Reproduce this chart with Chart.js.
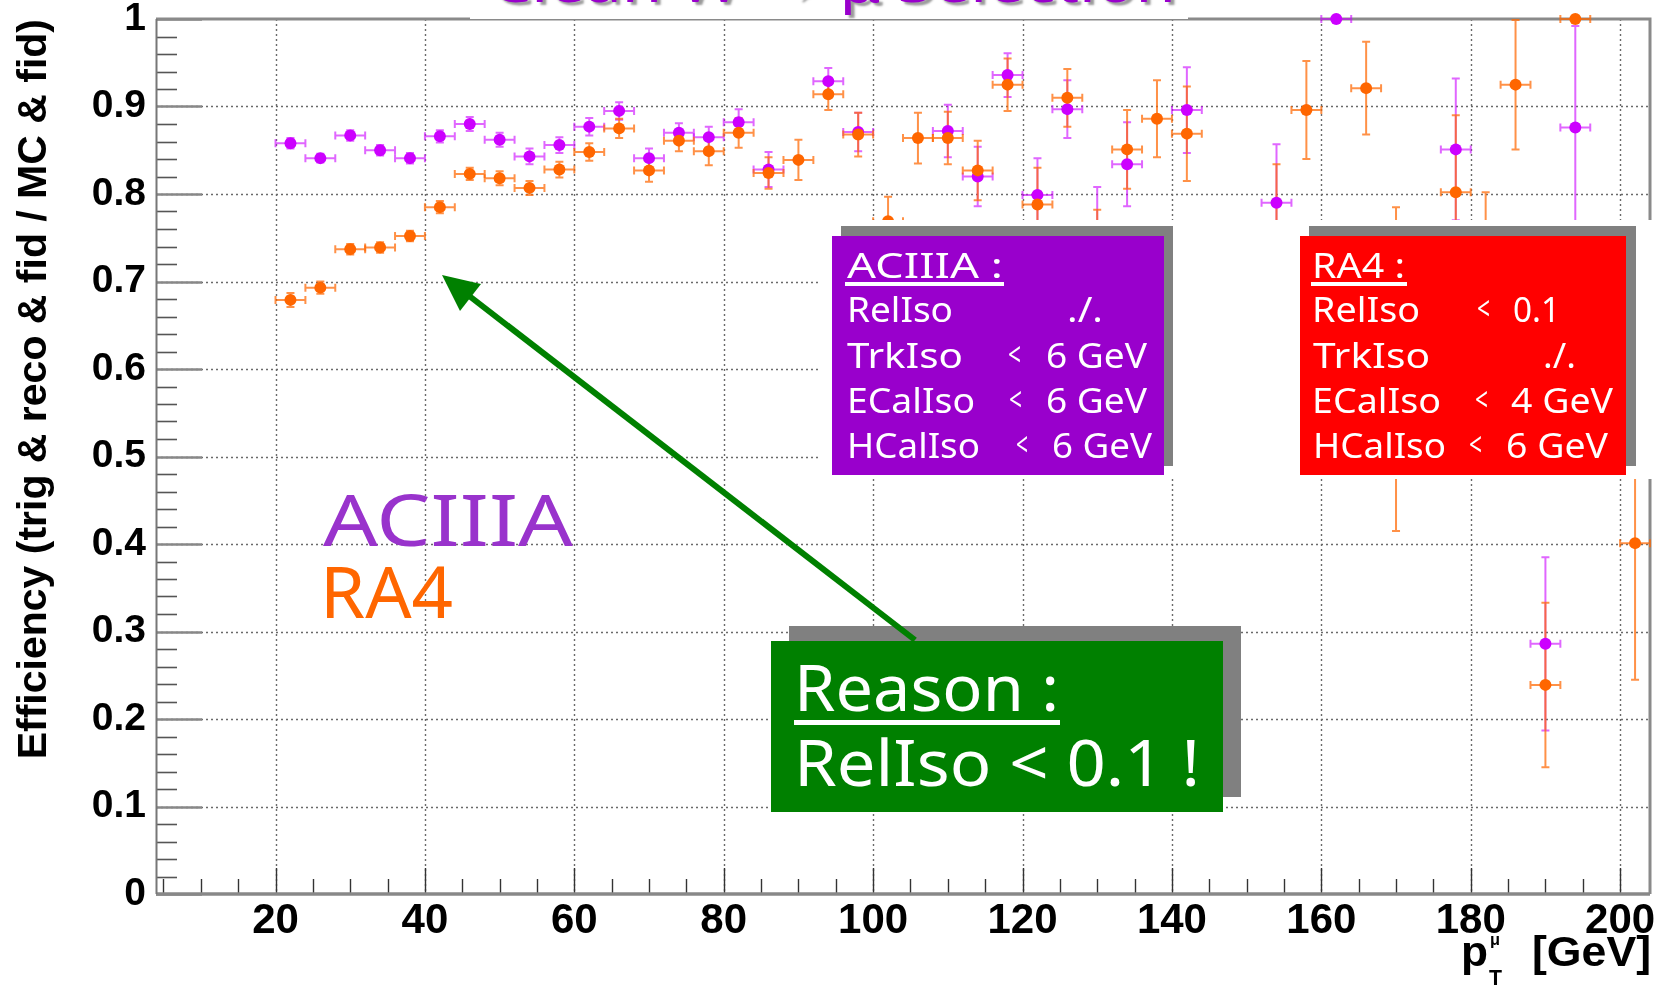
<!DOCTYPE html>
<html><head><meta charset="utf-8">
<script src="https://cdn.jsdelivr.net/npm/chart.js@4.4.0/dist/chart.umd.min.js"></script>
<style>
html,body{margin:0;padding:0;background:#fff;}
#wrap{position:relative;width:1672px;height:992px;overflow:hidden;background:#fff;}
#c{position:absolute;left:0;top:0;}
.abs{position:absolute;}
.txt{position:absolute;white-space:nowrap;line-height:1;font-family:"Noto Sans",sans-serif;transform-origin:0 0;}
.ax{position:absolute;white-space:nowrap;line-height:1;font-family:"Liberation Sans",Arial,sans-serif;font-weight:bold;color:#000;transform-origin:0 0;}
</style></head><body>
<div id="wrap">
<canvas id="c" width="1672" height="992"></canvas>
<div class="abs" style="left:818px;top:220px;width:835px;height:259px;background:#fff;"></div>
<div class="abs" style="left:841px;top:226px;width:332px;height:240px;background:#808080;"></div>
<div class="abs" style="left:832px;top:236px;width:332px;height:239px;background:#9900cc;"></div>
<div class="abs" style="left:1309px;top:226px;width:327px;height:240px;background:#808080;"></div>
<div class="abs" style="left:1300px;top:236px;width:326px;height:239px;background:#ff0000;"></div>
<div class="abs" style="left:789px;top:626px;width:452px;height:171px;background:#808080;"></div>
<svg class="abs" style="left:0;top:0;" width="1672" height="992">
  <line x1="915" y1="640" x2="468" y2="295" stroke="#008000" stroke-width="6"/>
  <polygon points="442,275 481,284 460,311" fill="#008000"/>
</svg>
<div class="abs" style="left:771px;top:641px;width:452px;height:171px;background:#008000;"></div>
<div class="abs" style="left:845px;top:282px;width:159px;height:4px;background:#fff;"></div>
<div class="abs" style="left:1311px;top:282px;width:96px;height:4px;background:#fff;"></div>
<div class="abs" style="left:794px;top:720px;width:266px;height:5px;background:#fff;"></div>
<div id="titlebox" class="abs" style="left:470px;top:0;width:718px;height:19px;background:#fff;overflow:hidden;"></div>
</div>
<script>
// ---------------- data ----------------
const ptBins = [22,26,30,34,38,42,46,50,54,58,62,66,70,74,78,82,86,90,94,98,102,106,110,114,118,122,126,130,134,138,142,146,150,154,158,162,166,170,174,178,182,186,190,194,198,202];
const binHalfWidth = 2;
const aciiiaEff = [0.858,0.841,0.867,0.850,0.841,0.866,0.880,0.862,0.843,0.856,0.877,0.895,0.841,0.870,0.865,0.882,0.828,null,0.929,0.871,null,null,0.872,0.820,0.936,0.799,0.897,0.745,0.834,null,0.896,null,null,0.790,null,1.0,null,null,null,0.851,null,null,0.286,0.876,null,null];
const aciiiaErr = [0.006,0.005,0.006,0.006,0.006,0.007,0.008,0.008,0.009,0.009,0.010,0.010,0.011,0.011,0.012,0.015,0.020,null,0.015,0.022,null,null,0.030,0.034,0.025,0.042,0.033,0.063,0.048,null,0.049,null,null,0.067,null,0,null,null,null,0.081,null,null,0.099,0.116,null,null];
const ra4Eff = [0.679,0.693,0.737,0.739,0.752,0.785,0.823,0.818,0.807,0.828,0.848,0.875,0.827,0.861,0.849,0.870,0.824,0.839,0.914,0.868,0.769,0.864,0.864,0.827,0.925,0.788,0.910,0.730,0.851,0.886,0.869,null,null,0.760,0.896,null,0.921,0.600,null,0.802,0.700,0.925,0.239,1.0,null,0.401];
const ra4Err = [0.008,0.007,0.006,0.006,0.006,0.007,0.007,0.008,0.008,0.009,0.010,0.011,0.013,0.012,0.016,0.017,0.018,0.023,0.018,0.025,0.028,0.029,0.030,0.034,0.030,0.042,0.033,0.052,0.045,0.044,0.054,null,null,0.074,0.056,null,0.053,0.185,null,0.088,0.102,0.074,0.094,0,null,0.156];
const xTickValues = [20,40,60,80,100,120,140,160,180,200];
const xTickLabels = ['20','40','60','80','100','120','140','160','180','200'];
const yTickValues = [0,0.1,0.2,0.3,0.4,0.5,0.6,0.7,0.8,0.9,1];
const yTickLabels = ['0','0.1','0.2','0.3','0.4','0.5','0.6','0.7','0.8','0.9','1'];
const seriesNames = ['RA4','ACIIIA'];

function build(xs, ys, es){
  const out=[];
  xs.forEach((x,i)=>{ if(ys[i]!==null) out.push({x:x, y:ys[i], xe:binHalfWidth, ye:es[i]}); });
  return out;
}

const framePlugin = {
  id:'rootframe',
  beforeDatasetsDraw(chart){
    const ctx=chart.ctx, xs=chart.scales.x, ys=chart.scales.y, a=chart.chartArea;
    ctx.save();
    // grid
    ctx.strokeStyle='#6a6a6a'; ctx.lineWidth=1.4; ctx.setLineDash([2,3]);
    xTickValues.forEach(v=>{ const p=Math.round(xs.getPixelForValue(v))+0.5; ctx.beginPath(); ctx.moveTo(p,a.top); ctx.lineTo(p,a.bottom); ctx.stroke(); });
    yTickValues.forEach(v=>{ if(v<=0||v>=1) return; const p=Math.round(ys.getPixelForValue(v))+0.5; ctx.beginPath(); ctx.moveTo(a.left,p); ctx.lineTo(a.right,p); ctx.stroke(); });
    ctx.setLineDash([]);
    // y ticks
    for(let k=0;k<=50;k++){ const v=k/50; const p=Math.round(ys.getPixelForValue(v))+0.5; const L=(k%5===0)?46:21; ctx.strokeStyle=(k%5===0)?'#888':'#555'; ctx.lineWidth=(k%5===0)?2.5:1.6; ctx.beginPath(); ctx.moveTo(a.left,p); ctx.lineTo(a.left+L,p); ctx.stroke(); }
    // x ticks
    for(let v=5; v<=200; v+=5){ const p=Math.round(xs.getPixelForValue(v))+0.5; const L=(v%20===0)?26:15; ctx.strokeStyle='#333'; ctx.lineWidth=1.4; ctx.beginPath(); ctx.moveTo(p,a.bottom); ctx.lineTo(p,a.bottom-L); ctx.stroke(); }
    // frame
    ctx.strokeStyle='#8a8a8a'; ctx.lineWidth=3;
    ctx.beginPath(); ctx.moveTo(a.left,a.top); ctx.lineTo(a.right,a.top); ctx.lineTo(a.right,a.bottom); ctx.stroke();
    ctx.strokeStyle='#888'; ctx.lineWidth=3.5;
    ctx.beginPath(); ctx.moveTo(a.left,a.bottom); ctx.lineTo(a.right,a.bottom); ctx.stroke();
    ctx.strokeStyle='#777'; ctx.lineWidth=2;
    ctx.beginPath(); ctx.moveTo(a.left+0.5,a.top); ctx.lineTo(a.left+0.5,a.bottom); ctx.stroke();
    // error bars (last dataset first so dataset 0 is on top)
    for(let d=chart.data.datasets.length-1; d>=0; d--){
      const ds=chart.data.datasets[d];
      ctx.strokeStyle=ds.errColor; ctx.lineWidth=2;
      ds.data.forEach(p=>{
        const px=xs.getPixelForValue(p.x), py=ys.getPixelForValue(p.y);
        const xl=xs.getPixelForValue(p.x-p.xe), xr=xs.getPixelForValue(p.x+p.xe);
        ctx.beginPath(); ctx.moveTo(xl,py); ctx.lineTo(xr,py);
        ctx.moveTo(xl,py-4); ctx.lineTo(xl,py+4); ctx.moveTo(xr,py-4); ctx.lineTo(xr,py+4);
        if(p.ye>0){
          const yt=ys.getPixelForValue(p.y+p.ye), yb=ys.getPixelForValue(p.y-p.ye);
          ctx.moveTo(px,yt); ctx.lineTo(px,yb);
          ctx.moveTo(px-4,yt); ctx.lineTo(px+4,yt); ctx.moveTo(px-4,yb); ctx.lineTo(px+4,yb);
        }
        ctx.stroke();
      });
    }
    ctx.restore();
  }
};

const tickFontX={family:'Liberation Sans', weight:'bold', size:42, lineHeight:1.2};
const tickFontY={family:'Liberation Sans', weight:'bold', size:39, lineHeight:1.0};

const chart = new Chart(document.getElementById('c').getContext('2d'), {
  type:'scatter',
  data:{datasets:[
    {label:seriesNames[0], data:build(ptBins, ra4Eff, ra4Err), pointRadius:6, pointHoverRadius:6, pointBackgroundColor:'#ff6600', pointBorderColor:'#ff6600', pointBorderWidth:0, showLine:false, clip:false, errColor:'rgba(255,102,0,0.72)'},
    {label:seriesNames[1], data:build(ptBins, aciiiaEff, aciiiaErr), pointRadius:6, pointHoverRadius:6, pointBackgroundColor:'#cc00ff', pointBorderColor:'#cc00ff', pointBorderWidth:0, showLine:false, clip:false, errColor:'rgba(204,0,255,0.6)'}
  ]},
  options:{
    responsive:false, animation:false, devicePixelRatio:1,
    layout:{padding:{top:19,right:22,left:0,bottom:0}},
    plugins:{legend:{display:false}, tooltip:{enabled:false}},
    events:[],
    scales:{
      x:{type:'linear', min:4, max:204,
        grid:{display:false, drawTicks:false}, border:{display:false},
        afterBuildTicks:s=>{ s.ticks = xTickValues.map(v=>({value:v})); },
        ticks:{autoSkip:false, maxRotation:0, padding:2, color:'#000', font:tickFontX,
          callback:(v)=>{ const i=xTickValues.indexOf(v); return i>=0?xTickLabels[i]:''; }},
        afterFit:s=>{ s.height=98; s.paddingLeft=0; s.paddingRight=0; }
      },
      y:{type:'linear', min:0, max:1,
        grid:{display:false, drawTicks:false}, border:{display:false},
        afterBuildTicks:s=>{ s.ticks = yTickValues.map(v=>({value:v})); },
        ticks:{autoSkip:false, padding:10, color:'#000', font:tickFontY,
          callback:(v)=>{ const i=yTickValues.findIndex(t=>Math.abs(t-v)<1e-9); return i>=0?yTickLabels[i]:''; }},
        title:{display:true, text:'Efficiency (trig & reco & fid / MC & fid)', align:'end', color:'#000',
          font:{family:'Liberation Sans', weight:'bold', size:41, lineHeight:1.2}, padding:{top:10,bottom:0}},
        afterFit:s=>{ s.width=156; s.paddingTop=0; s.paddingBottom=0; }
      }
    }
  },
  plugins:[framePlugin]
});

// ---------------- annotations ----------------
const wrap=document.getElementById('wrap');
function addText(t,x,base,size,color,w,cls,parent,extra){
  const s=document.createElement('div');
  s.className=cls||'txt'; s.textContent=t;
  const asc = (cls==='ax')?0.8465:0.888;
  s.style.left=x+'px'; s.style.top=(base-asc*size)+'px'; s.style.fontSize=size+'px'; s.style.color=color;
  if(extra) Object.assign(s.style, extra);
  (parent||wrap).appendChild(s);
  if(w){ const r=s.getBoundingClientRect().width; s.style.transform='scaleX('+(w/r)+')'; }
  return s;
}
const W='#fff';
const notes=[
 ['ACIIIA :',847,278,35,W,156],
 ['RelIso',847,322,35,W,106],
 ['./.',1067,322,35,W,36],
 ['TrkIso',847,368,35,W,116],
 ['<',1008,366,32,W,13],
 ['6 GeV',1046,368,35,W,101],
 ['ECalIso',847,413,35,W,128],
 ['<',1009,411,32,W,13],
 ['6 GeV',1046,413,35,W,101],
 ['HCalIso',847,458,35,W,133],
 ['<',1016,456,32,W,12],
 ['6 GeV',1052,458,35,W,100],
 ['RA4 :',1312,278,35,W,93],
 ['RelIso',1312,322,35,W,108],
 ['<',1477,320,32,W,13],
 ['0.1',1513,322,35,W,47],
 ['TrkIso',1313,368,35,W,117],
 ['./.',1543,368,35,W,33],
 ['ECalIso',1312,413,35,W,129],
 ['<',1475,411,32,W,13],
 ['4 GeV',1511,413,35,W,102],
 ['HCalIso',1313,458,35,W,133],
 ['<',1469,456,32,W,13],
 ['6 GeV',1506,458,35,W,102],
 ['Reason :',794,712,64,W,265],
 ['RelIso < 0.1 !',794,787,64,W,406],
 ['ACIIIA',323,546,72,'#9933cc',250],
 ['RA4',320,618,72,'#ff6600',133]
];
notes.forEach(n=>addText(n[0],n[1],n[2],n[3],n[4],n[5]));
// x axis title p_T^mu [GeV]
addText('p',1461,967,42,'#000',27,'ax');
addText('T',1489,986,22,'#000',13,'ax');
addText('\u03bc',1490,946,16,'#000',10,'ax');
addText('[GeV]',1532,967,42,'#000',119,'ax');
// partially hidden title at the top
addText('Clean W \u2192 \u03bc Selection',20,2,54,'#9900cc',686,'txt',document.getElementById('titlebox'),{textShadow:'3px 3px 2px #999'});
</script>
</body></html>
